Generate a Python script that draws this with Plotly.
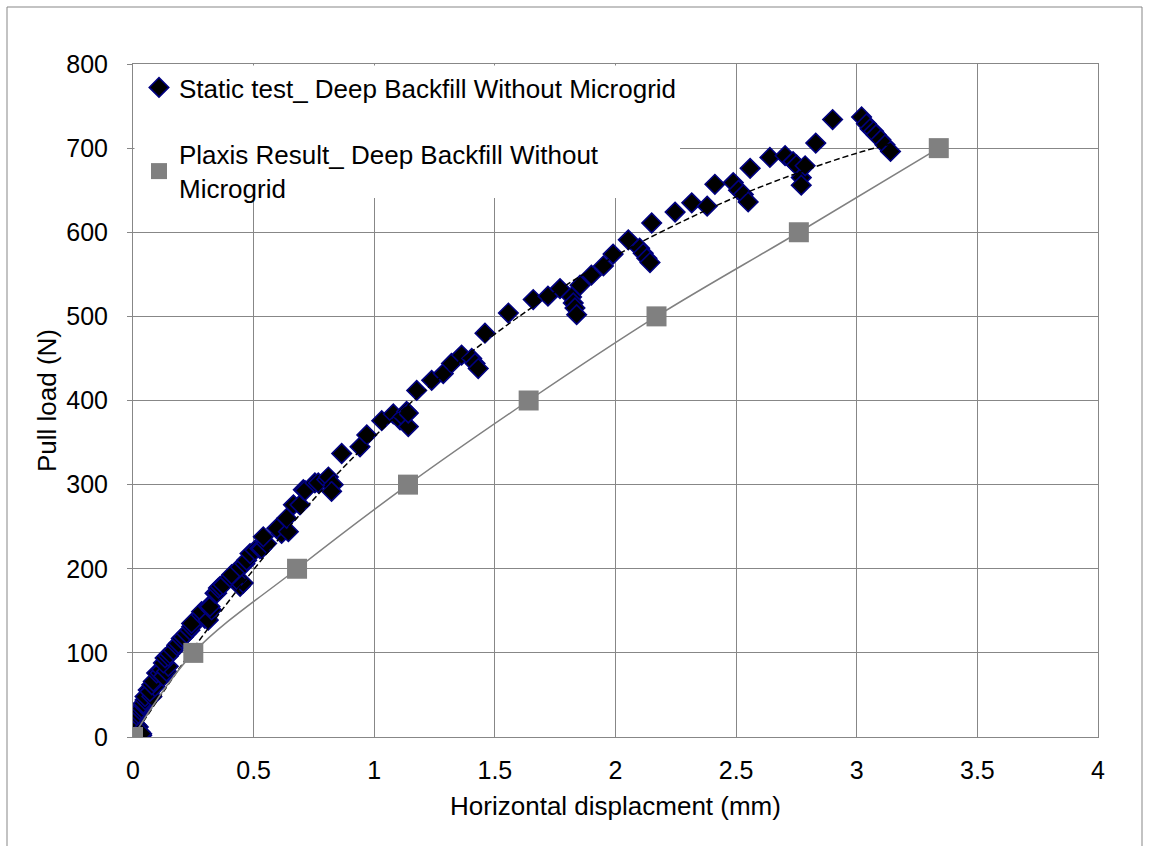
import plotly.graph_objects as go

# ---- data ----
static_x = [0.0, 0.01, 0.008, 0.015, 0.022, 0.029, 0.036, 0.036, 0.015, 0.022, 0.029, 0.036,
            0.043, 0.043, 0.05, 0.05, 0.063, 0.078, 0.07, 0.091, 0.078, 0.084, 0.098, 0.112,
            0.119, 0.126, 0.139, 0.146, 0.126, 0.133, 0.146, 0.153, 0.167, 0.181, 0.188, 0.2,
            0.209, 0.222, 0.236, 0.243, 0.243, 0.298, 0.284, 0.284, 0.312, 0.312, 0.326, 0.319,
            0.34, 0.347, 0.354, 0.361, 0.374, 0.444, 0.457, 0.43, 0.402, 0.409, 0.444, 0.464,
            0.471, 0.485, 0.506, 0.526, 0.533, 0.554, 0.54, 0.616, 0.596, 0.644, 0.637, 0.665,
            0.692, 0.706, 0.713, 0.754, 0.768, 0.803, 0.81, 0.83, 0.823, 0.865, 0.941, 0.969,
            1.031, 1.079, 1.107, 1.12, 1.134, 1.141, 1.141, 1.176, 1.238, 1.286, 1.32, 1.362,
            1.404, 1.418, 1.431, 1.459, 1.556, 1.659, 1.72, 1.77, 1.818, 1.825, 1.832, 1.839,
            1.853, 1.90, 1.95, 1.99, 2.053, 2.10, 2.115, 2.13, 2.143, 2.15, 2.247, 2.316,
            2.38, 2.412, 2.488, 2.51, 2.53, 2.55, 2.558, 2.64, 2.703, 2.736, 2.75, 2.77,
            2.77, 2.786, 2.83, 2.90, 3.02, 3.04, 3.055, 3.07, 3.08, 3.10, 3.117, 3.14]
static_y = [0, 5, 22, 14, 12, 6, 2, 4, 26, 28, 32, 34,
            38, 40, 44, 48, 56, 48, 54, 60, 62, 66, 76, 76,
            80, 72, 78, 84, 88, 94, 96, 99, 103, 109, 111, 117,
            119, 123, 127, 131, 135, 141, 145, 149, 155, 139, 151, 155,
            171, 171, 177, 179, 181, 179, 183, 187, 190, 193, 202, 206,
            210, 218, 222, 224, 224, 230, 238, 242, 248, 244, 260, 276,
            276, 294, 293, 302, 302, 306, 309, 300, 292, 337, 345, 359,
            376, 384, 377, 381, 387, 369, 385, 412, 424, 432, 444, 454,
            450, 444, 438, 480, 504, 520, 524, 533, 523, 516, 510, 502,
            537, 549, 560, 574, 591, 581, 575, 569, 564, 611, 624, 635,
            631, 657, 659, 650, 645, 636, 676, 689, 691, 684, 680, 665,
            656, 679, 706, 734, 737, 729, 723, 720, 716, 710, 704, 696]

trend_x = [0, 0.25, 0.5, 0.75, 1.0, 1.25, 1.5, 1.75, 2.0, 2.25, 2.5, 2.75, 3.0, 3.14]
trend_y = [0, 105, 199, 283, 357, 422, 479, 529, 572, 609, 642, 670, 694, 705]

plaxis_x = [0, 0.25, 0.68, 1.14, 1.64, 2.17, 2.76, 3.34]
plaxis_y = [0, 100, 200, 300, 400, 500, 600, 700]

x_ticks = [0, 0.5, 1, 1.5, 2, 2.5, 3, 3.5, 4]
x_tick_text = ["0", "0.5", "1", "1.5", "2", "2.5", "3", "3.5", "4"]
y_ticks = [0, 100, 200, 300, 400, 500, 600, 700, 800]

FONT = "Liberation Sans, Arial, sans-serif"
GRID = "#878787"

fig = go.Figure()
fig.add_trace(go.Scatter(
    x=static_x, y=static_y, mode="markers",
    name="Static test_ Deep Backfill Without Microgrid",
    legendgroup="a",
    marker=dict(symbol="diamond", size=15, color="black",
                line=dict(color="#000080", width=1.6)),
))
fig.add_trace(go.Scatter(
    x=trend_x, y=trend_y, mode="lines", showlegend=False,
    line=dict(color="black", width=1.5, dash="6px,3px", shape="spline"),
    hoverinfo="skip",
))
fig.add_trace(go.Scatter(
    x=plaxis_x, y=plaxis_y, mode="lines", showlegend=False,
    line=dict(color="#808080", width=1.5, shape="spline"),
    hoverinfo="skip",
))
fig.add_trace(go.Scatter(
    x=plaxis_x, y=plaxis_y, mode="markers",
    name="Plaxis Result_ Deep Backfill Without<br>Microgrid",
    legendgroup="b",
    marker=dict(symbol="square", size=20, color="#808080",
                line=dict(width=0)),
))

fig.update_layout(
    width=1149, height=846,
    margin=dict(l=133, r=51, t=64, b=109),
    paper_bgcolor="white", plot_bgcolor="white",
    font=dict(family=FONT, size=25, color="black"),
    showlegend=True,
    legend=dict(x=6 / 965, y=1, xanchor="left", yanchor="top",
                bgcolor="rgba(0,0,0,0)", borderwidth=0,
                font=dict(family=FONT, size=26, color="black"),
                traceorder="grouped", tracegroupgap=30,
                itemsizing="trace"),
    xaxis=dict(range=[0, 4], tickvals=x_ticks, ticktext=x_tick_text,
               showgrid=True, gridcolor=GRID, gridwidth=1,
               showline=True, linecolor=GRID, linewidth=1, mirror=True,
               zeroline=False, ticks="", ticklabelstandoff=11,
               tickfont=dict(family=FONT, size=25, color="black"),
               title=dict(text="Horizontal displacment (mm)", standoff=13,
                          font=dict(family=FONT, size=26, color="black"))),
    yaxis=dict(range=[0, 800], tickvals=y_ticks,
               showgrid=True, gridcolor=GRID, gridwidth=1,
               showline=True, linecolor=GRID, linewidth=1, mirror=True,
               zeroline=False, ticks="outside", ticklen=5, tickcolor=GRID,
               ticklabelstandoff=14,
               tickfont=dict(family=FONT, size=25, color="black"),
               title=dict(text="Pull load (N)", standoff=2,
                          font=dict(family=FONT, size=26, color="black"))),
    shapes=[
        # outer chart-area border
        dict(type="rect", xref="paper", yref="paper",
             x0=(7 - 133) / 965, x1=(1142 - 133) / 965,
             y0=(737 - 860) / 673, y1=(737 - 7) / 673,
             line=dict(color="#878787", width=1), layer="below"),
        # legend's white backing (hides gridlines under the legend text)
        dict(type="rect", xref="paper", yref="paper",
             x0=1.5 / 965, x1=(680 - 133) / 965,
             y0=(737 - 198) / 673, y1=(737 - 65.5) / 673,
             fillcolor="white", line=dict(width=0), layer="above"),
    ],
)

fig.write_html("out.html")
